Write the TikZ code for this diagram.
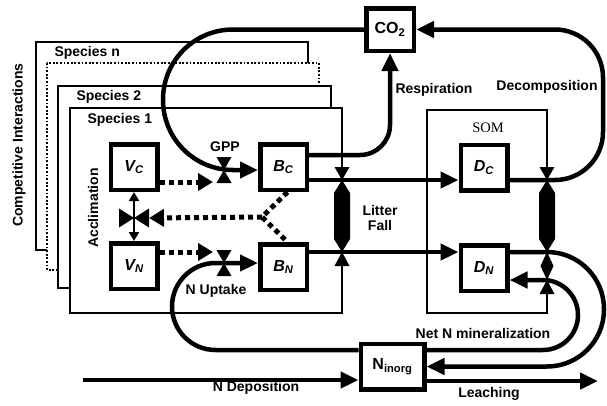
\documentclass[tikz,border=0pt]{standalone}
\usepackage{fontspec}
\setmainfont{Liberation Sans}
\newfontfamily\somfont{Liberation Serif}
\usetikzlibrary{arrows.meta}

\tikzset{
  pool/.style={draw, line width=4.5pt, fill=white, minimum width=46.5pt, minimum height=45.5pt, inner sep=0pt, font=\fontsize{16}{16}\selectfont\bfseries\itshape},
  species/.style={draw, line width=1.4pt, fill=white},
  flow/.style={line width=4.5pt, -{Triangle[length=18pt,width=16pt]}},
  info/.style={line width=5pt, dash pattern=on 5pt off 4pt},
  lbl/.style={font=\fontsize{14}{15.5}\selectfont\bfseries},
  vvalve/.pic={\fill (-7.5,-13) -- (7.5,-13) -- (0,0) -- cycle (-7.5,13) -- (7.5,13) -- (0,0) -- cycle;},
  hvalve/.pic={\fill (-15,-9.5) -- (-15,9.5) -- (0,0) -- cycle (15,-9.5) -- (15,9.5) -- (0,0) -- cycle;},
  rod/.pic={\fill (-7.5,-13) -- (7.5,-13) -- (0,0) -- cycle;
            \fill (0,0) -- (8,13) -- (8,59) -- (0,72) -- (-8,59) -- (-8,13) -- cycle;},
  upcone/.pic={\fill (-7.5,14) -- (7.5,14) -- (0,0) -- cycle;},
  diamond/.pic={\fill (0,0) -- (6.5,14) -- (0,28) -- (-6.5,14) -- cycle;},
}

\begin{document}
\begin{tikzpicture}[x=1pt,y=-1pt]
\useasboundingbox (0,0) rectangle (607,405);

% species stack, back to front
\draw[species] (36,42) rectangle (308,250);
\draw[species, line width=1.8pt, dash pattern=on 1.8pt off 1.8pt] (47,63) rectangle (319,270);
\draw[species] (58,86) rectangle (331,288);
\draw[species] (70,108) rectangle (342,313);
\draw[species] (427,110) rectangle (547,313);

\node[lbl, anchor=west] (spn) at (51,53) {Species n};
\node[lbl, anchor=west] (sp2) at (73,97) {Species 2};
\node[lbl, anchor=west] (sp1) at (84,120) {Species 1};
\node[lbl, rotate=90] (comp) at (19,145) {Competitive Interactions};
\node[lbl, rotate=90] (accl) at (93,208) {Acclimation};
\node[lbl] (gppl) at (225,147) {GPP};
\node[lbl] (uptl) at (216,291) {N Uptake};
\node[lbl] (respl) at (434,90) {Respiration};
\node[lbl] (decl) at (547,87) {Decomposition};
\node[font=\somfont\fontsize{14.5}{15}\selectfont] (som) at (488,128) {SOM};
\node[lbl, align=center] (litl) at (380,218) {Litter\\Fall};
\node[lbl] (netl) at (483,333) {Net N mineralization};
\node[lbl] (depl) at (256,388) {N Deposition};
\node[lbl] (leal) at (489,394) {Leaching};

% pools
\node[pool] (vc) at (134,167) {V\textsubscript{C}};
\node[pool] (vn) at (134,266) {V\textsubscript{N}};
\node[pool] (bc) at (283.5,167) {B\textsubscript{C}};
\node[pool] (bn) at (283.5,267) {B\textsubscript{N}};
\node[pool] (dc) at (484,167.5) {D\textsubscript{C}};
\node[pool] (dn) at (484,268) {D\textsubscript{N}};
\node[pool, minimum width=47.5pt, minimum height=42.5pt, font=\fontsize{16}{16}\selectfont\bfseries] (co2) at (390,29.5) {CO\textsubscript{2}};
\node[pool, minimum width=63.5pt, minimum height=45.5pt, font=\fontsize{16}{16}\selectfont\bfseries] (ninorg) at (392.5,366.5) {N\textsubscript{inorg}};

% valve points
\coordinate (gpp) at (224,170);
\coordinate (upt) at (224,263);
\coordinate (acc) at (134,218);
\coordinate (lfc) at (342,180);
\coordinate (lfn) at (342,252);
\coordinate (dcv) at (547,180);
\coordinate (dnv) at (547,252);
\coordinate (mnv) at (547,280);
\coordinate (rsp) at (390,155);
\coordinate (dep) at (83,380);
\coordinate (lch) at (598,381);
\coordinate (gppin) at (213,182);
\coordinate (uptin) at (213,252);
\coordinate (accin) at (149,218);
\coordinate (jn) at (262,217);

% carbon flows
\draw[flow, rounded corners=70] (co2.west) -- (163,29.5) -- (163,170) -- (bc.west |- gpp);
\draw[flow, rounded corners=30] (bc.east |- rsp) -- (rsp) -- (co2.south);
\draw[flow] (bc.east |- lfc) -- (dc.west |- lfc);
\draw[flow, rounded corners=48] (dc.east |- dcv) -- (603,180) -- (603,29.5) -- (co2.east);

% nitrogen flows
\draw[flow] (bn.east |- lfn) -- (dn.west |- lfn);
\draw[flow, rounded corners=57] (dn.east |- dnv) -- (604,252) -- (604,366.5) -- (ninorg.east);
\draw[flow, rounded corners=35] ([yshift=16.5pt]ninorg.east) -- (578,350) -- (578,280) -- (dn.east |- mnv);
\draw[flow, rounded corners=43.5] ([yshift=16.5pt]ninorg.west) -- (172,350) -- (172,263) -- (bn.west |- upt);
\draw[flow] (dep) -- (ninorg.west |- dep);
\draw[flow] (ninorg.east |- lch) -- (lch);

% controls
\draw[info, -{Triangle[length=15pt,width=17pt]}] (vc.east |- gppin) -- (gppin);
\draw[info, -{Triangle[length=15pt,width=17pt]}] (vn.east |- uptin) -- (uptin);
\draw[info] ([xshift=4pt]bc.south) -- (jn) -- ([xshift=4pt]bn.north);
\draw[info, -{Triangle[length=15pt,width=17pt]}] (jn) -- (accin);
\draw[line width=2pt, {Triangle[length=9pt,width=10pt]}-{Triangle[length=9pt,width=10pt]}] (vc.south) -- (vn.north);

% valves
\pic at (gpp) {vvalve};
\pic at (upt) {vvalve};
\pic at (acc) {hvalve};
\pic at (lfc) {rod};
\pic at (lfn) {upcone};
\pic at (dcv) {rod};
\pic at (dnv) {diamond};
\pic at (mnv) {upcone};
\end{tikzpicture}
\end{document}
